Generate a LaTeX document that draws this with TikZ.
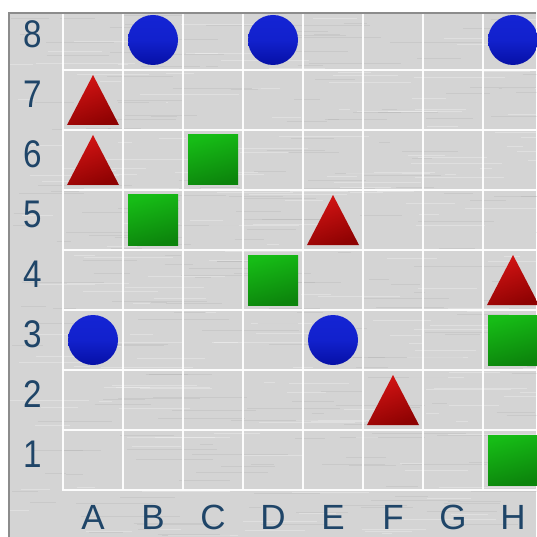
\documentclass[tikz,border=0pt]{standalone}
\usepackage{fontspec}
\setmainfont{Liberation Sans}
\definecolor{board}{HTML}{D4D4D4}
\definecolor{frame}{HTML}{8C8C8C}
\definecolor{lbl}{HTML}{1F4568}
\definecolor{blueA}{HTML}{1424D4}
\definecolor{blueB}{HTML}{0610A6}
\definecolor{redA}{HTML}{D41414}
\definecolor{redB}{HTML}{8E0202}
\definecolor{greenA}{HTML}{16BC16}
\definecolor{greenB}{HTML}{0C840C}
\tikzset{
  gridline/.style={white, line width=2pt, opacity=0.95},
  rowlabel/.style={text=lbl, font=\fontsize{35}{35}\selectfont, anchor=center, inner sep=0pt, xscale=0.95, yscale=1.1},
  collabel/.style={text=lbl, font=\fontsize{35}{35}\selectfont, anchor=center, inner sep=0pt},
  bluepiece/.style={top color=blueA, bottom color=blueB, middle color=blueA!85!blueB},
  redpiece/.style={top color=redA, bottom color=redB, shading angle=20},
  greenpiece/.style={top color=greenA, bottom color=greenB, shading angle=15},
}
\begin{document}
\begin{tikzpicture}[x=1pt,y=-1pt]
\useasboundingbox (0,0) rectangle (536,537);
\fill[white] (0,0) rectangle (536,537);
\fill[board] (9,12) rectangle (536,537);
% brushed texture
\pgfmathsetseed{11}
\foreach \i in {1,...,420}{
  \pgfmathsetmacro{\yy}{13+rnd*524}
  \pgfmathsetmacro{\xa}{9+rnd*527}
  \pgfmathsetmacro{\ll}{10+rnd*90}
  \pgfmathsetmacro{\cc}{rnd>0.5 ? 1 : 0}
  \ifdim\cc pt>0.5pt
    \draw[white, opacity=0.28, line width=0.6pt] (\xa,\yy) -- ++(\ll,0);
  \else
    \draw[black!50, opacity=0.12, line width=0.6pt] (\xa,\yy) -- ++(\ll,0);
  \fi
}
\draw[frame, line width=2.5pt] (9.2,537) -- (9.2,12.8) -- (536,12.8);
% grid
\foreach \k in {0,...,7}{
  \draw[gridline] (63+60*\k,14) -- (63+60*\k,490);
}
\foreach \k in {1,...,8}{
  \draw[gridline] (62,10+60*\k) -- (536,10+60*\k);
}
% labels
\foreach \r in {1,...,8}{
  \node[rowlabel] (row\r) at (33,514-60*\r) {\r};
}
\foreach \c [count=\i from 0] in {A,B,C,D,E,F,G,H}{
  \node[collabel] (col\c) at (93+60*\i,517) {\c};
}
% circles: B8 D8 H8 A3 E3
\foreach \c/\r in {1/8,3/8,7/8,0/3,4/3}{
  \shade[bluepiece] (93+60*\c,520-60*\r) circle (25);
}
% triangles: A7 A6 E5 H4 F2
\foreach \c/\r in {0/7,0/6,4/5,7/4,5/2}{
  \shade[redpiece] (67+60*\c,545-60*\r) -- (119+60*\c,545-60*\r) -- (93+60*\c,495-60*\r) -- cycle;
}
% squares: C6 B5 D4 H3 H1
\foreach \c/\r in {2/6,1/5,3/4,7/3,7/1}{
  \shade[greenpiece] (68+60*\c,495-60*\r) rectangle (118+60*\c,545-60*\r);
}
\end{tikzpicture}
\end{document}
